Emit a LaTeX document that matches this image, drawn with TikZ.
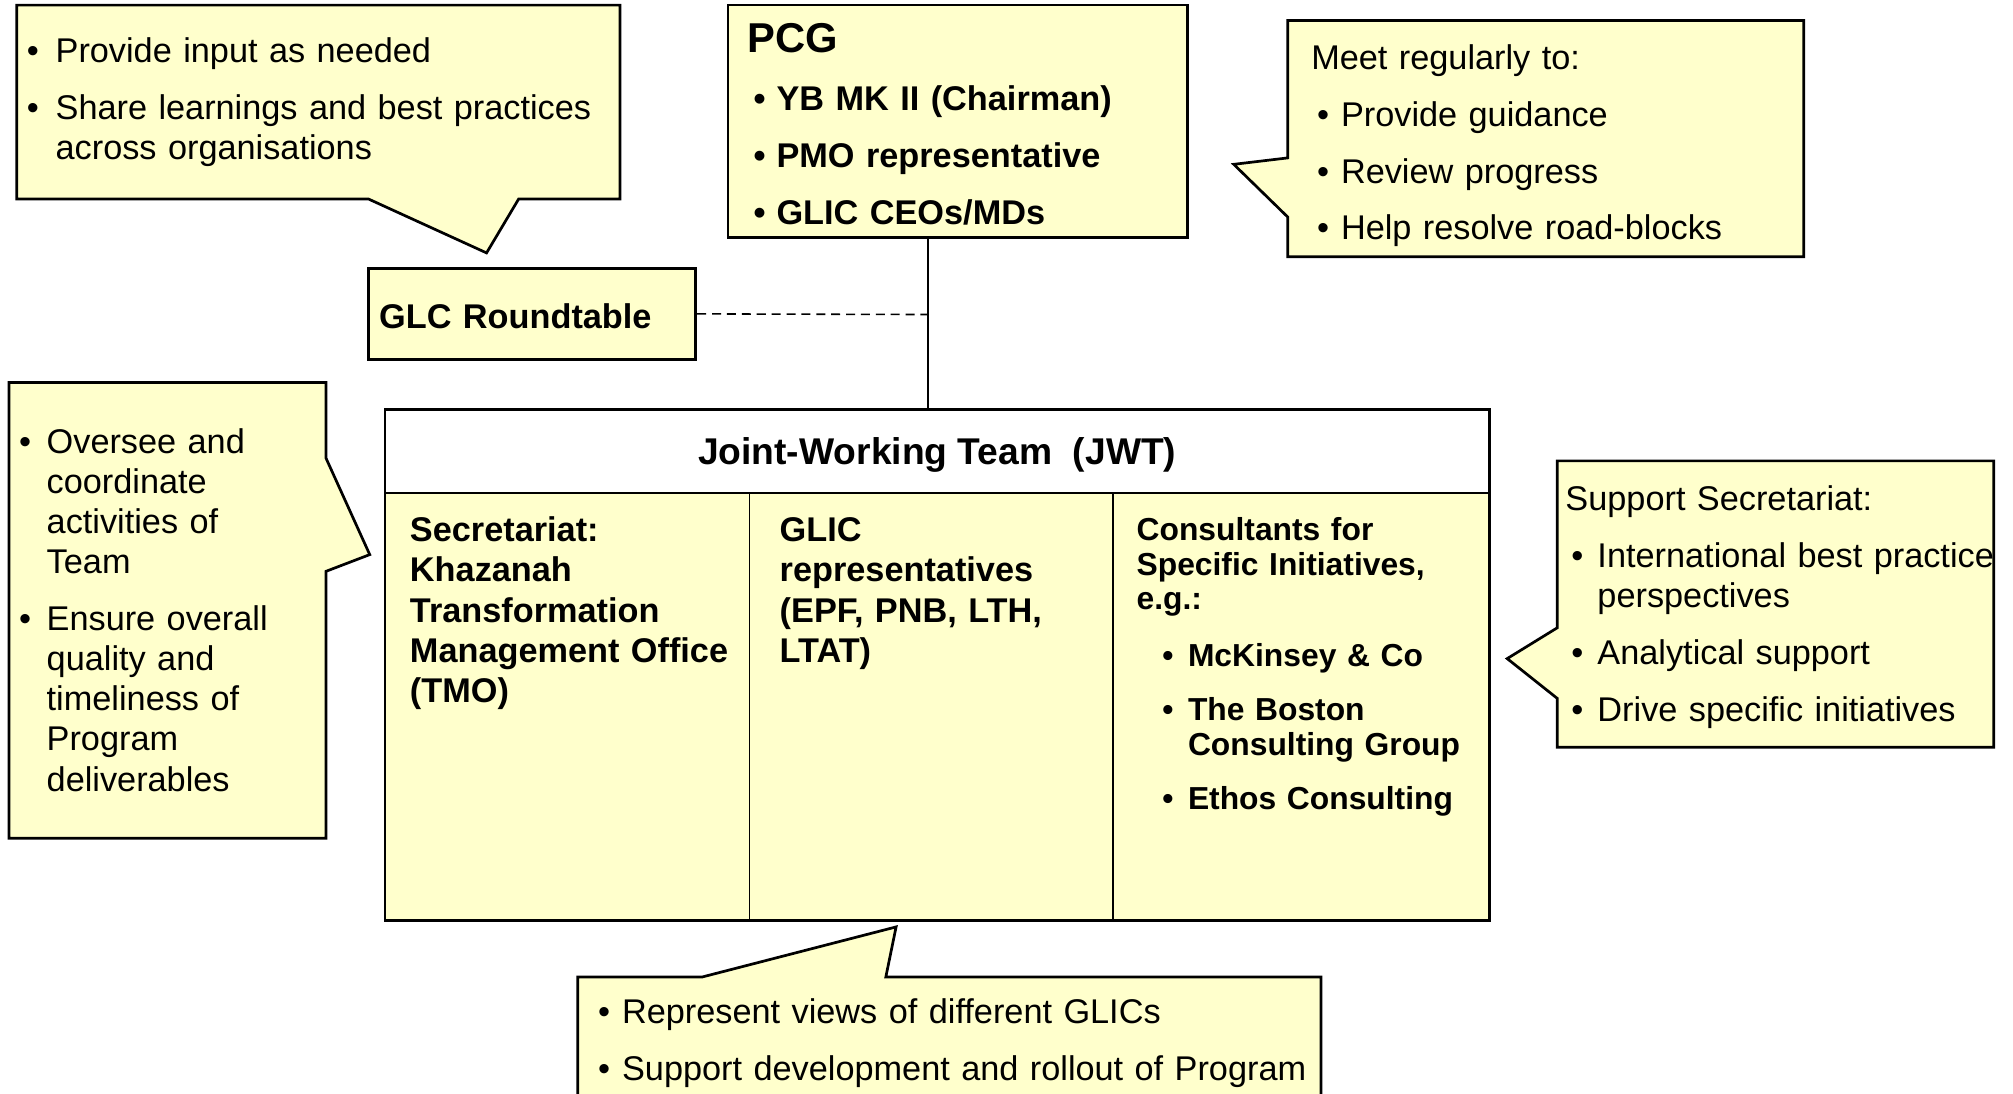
\documentclass[tikz,border=0pt]{standalone}
\usepackage{fontspec}
\setmainfont{Liberation Sans}
\usetikzlibrary{fit}

\definecolor{notefill}{RGB}{255,255,204}
\newlength{\bulind}
\setlength{\bulind}{12pt}
\newcommand{\bitem}[1]{{\leftskip=\bulind\hspace*{-\bulind}\makebox[\bulind][l]{\textbullet}#1\par}}
\newcommand{\bhead}[1]{\hspace*{-2.6pt}#1\par}
\newcommand{\bgap}{\vspace{7.4pt}}
\newcommand{\normtext}{\fontsize{15.2}{17.8}\selectfont}
\newcommand{\smalltext}{\fontsize{14.1}{15.4}\selectfont}

\tikzset{
  note/.style={draw=black, fill=notefill, line width=1.2pt, line join=miter},
  box/.style={draw=black, fill=notefill, line width=1.2pt, inner sep=0pt},
  cell/.style={draw=black, fill=notefill, line width=0.6pt, inner sep=0pt},
  wire/.style={draw=black, line width=0.7pt},
  dashline/.style={wire, dash pattern=on 4pt off 2.6pt},
  txt/.style={anchor=base west, inner sep=0pt, align=left, font=\normtext, text width=#1},
  bul/.style={execute at begin node={\setlength{\bulind}{#1}}},
}

\begin{document}
\begin{tikzpicture}[x=0.02cm, y=-0.02cm]
    \useasboundingbox (0,0) rectangle (1568,852);

    % callouts
    \draw[note] (13,4) -- (483,4) -- (483,155) -- (404,155) -- (379,197) -- (287,155) -- (13,155) -- cycle;
    \draw[note] (1003,16) -- (1405,16) -- (1405,200) -- (1003,200) -- (1003,169) -- (961,128) -- (1003,123) -- cycle;
    \draw[note] (7,298) -- (254,298) -- (254,357) -- (288,432) -- (254,445) -- (254,653) -- (7,653) -- cycle;
    \draw[note] (1213,359) -- (1553,359) -- (1553,582) -- (1213,582) -- (1213,544) -- (1174,513) -- (1213,489) -- cycle;
    \draw[note] (450,852) -- (450,761) -- (547,761) -- (698,722) -- (690,761) -- (1029,761) -- (1029,852);

    % boxes
    \node[box, fit={(567,4) (925,185)}] (pcg) {};
    \node[box, fit={(287,209) (542,280)}] (glc) {};

    \node[cell, fit={(300,384) (584,717)}] (cellA) {};
    \node[cell, fit={(584,384) (867,717)}] (cellB) {};
    \node[cell, fit={(867,384) (1160,717)}] (cellC) {};
    \node[cell, fill=white, line width=1pt, fit={(300,319) (1160,384)}] (jwthead) {};
    \node[draw, line width=1.2pt, inner sep=0pt, fit={(300,319) (1160,717)}] (jwt) {};
    \node[inner sep=0pt, yshift=-0.06cm, font=\fontsize{16.5}{19}\selectfont\bfseries] (jwtlabel) at (jwthead.center) {Joint-Working Team\ \ (JWT)};

    % links
    \coordinate (link) at (723,245);
    \draw[wire] (pcg.south -| link) -- (jwt.north -| link);
    \draw[dashline] (glc.east) -- (link);

    % texts
    \node[txt=9.5cm, bul=12.8pt] (inputnote) at (20.5,49)
        {\bitem{Provide input as needed}\bgap\bitem{Share learnings and best practices\\across organisations}};
    \node[txt=6cm, font=\fontsize{18.5}{22}\selectfont\bfseries] (pcgtitle) at (582,41) {PCG};
    \node[txt=6.5cm, font=\normtext\bfseries, bul=10.2pt] (pcglist) at (586.6,86)
        {\bitem{YB MK II (Chairman)}\bgap\bitem{PMO representative}\bgap\bitem{GLIC CEOs/MDs}};
    \node[txt=7cm, bul=10.6pt] (meetnote) at (1025.6,54)
        {\bhead{Meet regularly to:}\bgap\bitem{Provide guidance}\bgap\bitem{Review progress}\bgap\bitem{Help resolve road-blocks}};
    \node[txt=5cm, font=\normtext\bfseries] (glclabel) at (295,256) {GLC Roundtable};

    \node[txt=5.5cm, font=\normtext\bfseries] (tmo) at (319,422)
        {Secretariat:\\Khazanah\\Transformation\\Management Office\\(TMO)};
    \node[txt=5cm, font=\normtext\bfseries] (glicrep) at (607,422)
        {GLIC\\representatives\\(EPF, PNB, LTH,\\LTAT)};
    \node[txt=5.5cm, font=\smalltext\bfseries] (consult) at (885,421)
        {Consultants for\\Specific Initiatives,\\e.g.:};
    \node[txt=5cm, font=\smalltext\bfseries, bul=11.4pt] (consultlist) at (905,519)
        {\bitem{McKinsey \& Co}\vspace{8.6pt}\bitem{The Boston\\Consulting Group}\vspace{8.6pt}\bitem{Ethos Consulting}};

    \node[txt=5cm, bul=12.2pt] (leadnote) at (14.6,353)
        {\bitem{Oversee and\\coordinate\\activities of\\Team}\bgap\bitem{Ensure overall\\quality and\\timeliness of\\Program\\deliverables}};
    \node[txt=7cm, bul=11.6pt] (supportnote) at (1223.6,398)
        {\bhead{Support Secretariat:}\bgap\bitem{International best practice\\perspectives}\bgap\bitem{Analytical support}\bgap\bitem{Drive specific initiatives}};
    \node[txt=12cm, bul=10.6pt] (glicnote) at (465.6,797)
        {\bitem{Represent views of different GLICs}\bgap\bitem{Support development and rollout of Program}};
\end{tikzpicture}
\end{document}
